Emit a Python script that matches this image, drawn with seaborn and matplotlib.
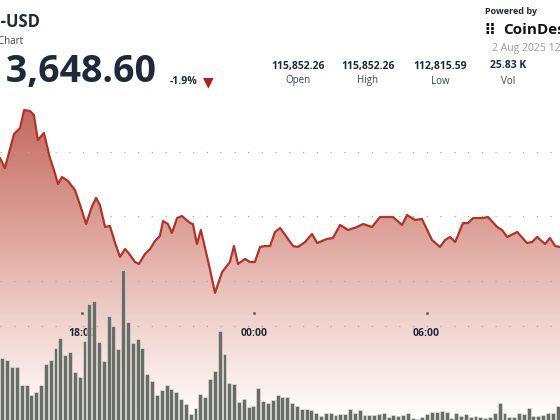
import numpy as np
import pandas as pd
import seaborn as sns
import matplotlib.pyplot as plt
from matplotlib.patches import Polygon
from matplotlib.colors import LinearSegmentedColormap

sns.set_style("white")
plt.rcParams['font.family'] = ['Open Sans', 'DejaVu Sans']

# price line, hours since 1 Aug 00:00 and price in USD
hours = [15.14, 15.31, 15.63, 15.84, 15.98, 16.19, 16.32, 16.46, 16.67, 16.88, 17.02, 17.16, 17.30,
         17.51, 17.75, 17.93, 18.14, 18.35, 18.49, 18.62, 18.80, 18.97, 19.15, 19.32, 19.50, 19.67,
         19.84, 19.98, 20.19, 20.37, 20.54, 20.71, 20.82, 20.99, 21.13, 21.31, 21.48, 21.76, 21.86,
         22.00, 22.14, 22.46, 22.63, 22.88, 23.15, 23.29, 23.43, 23.68, 23.85, 24.02, 24.20, 24.37,
         24.55, 24.72, 24.90, 25.35, 25.52, 25.77, 26.01, 26.19, 26.53, 26.74, 26.99, 27.27, 27.58,
         27.79, 28.10, 28.38, 28.62, 28.83, 29.15, 29.32, 29.60, 29.84, 30.19, 30.47, 30.65, 30.82,
         31.00, 31.27, 31.45, 31.62, 31.97, 32.14, 32.46, 32.63, 32.81, 33.16, 33.50, 33.68, 33.85,
         34.13, 34.30, 34.48, 34.65]
prices = [115055, 114889, 115454, 115553, 115852, 115835, 115769, 115354, 115470, 115055, 114856,
          114624, 114740, 114673, 114524, 114275, 113960, 114258, 114391, 114275, 113910, 113926,
          113644, 113412, 113545, 113445, 113329, 113296, 113462, 113545, 113677, 113760, 114009,
          113960, 113810, 114059, 114092, 113976, 113960, 113628, 113860, 113196, 112815, 113163,
          113329, 113594, 113296, 113379, 113329, 113329, 113578, 113594, 113594, 113827, 113893,
          113594, 113578, 113661, 113794, 113644, 113711, 113727, 113943, 113860, 113910, 113960,
          113910, 114076, 114076, 114076, 113943, 114109, 114026, 114043, 113694, 113578, 113694,
          113744, 113661, 113976, 113976, 114059, 114059, 114076, 113910, 113860, 113744, 113827,
          113644, 113661, 113744, 113628, 113727, 113594, 113578]

# volume bars (5 min buckets), arbitrary units
volume = [62, 60, 53, 53, 35, 35, 25, 28, 35, 56, 60, 72, 82, 65, 68, 48, 43, 79, 116, 119, 78,
          59, 104, 94, 71, 150, 98, 77, 81, 72, 46, 39, 25, 30, 35, 31, 28, 21, 16, 6, 12, 26, 23,
          41, 49, 89, 66, 37, 36, 18, 21, 13, 14, 32, 19, 17, 20, 25, 23,
          23, 17, 14, 11, 11, 10, 7, 4, 7, 7, 5, 6, 6, 11, 7, 10, 5, 5, 5, 6, 7, 3, 5, 4, 5, 7, 2,
          1, 3, 6, 8, 8, 9, 8, 2, 7, 4, 6, 3, 4, 3, 2, 3, 7, 17, 7, 3, 3, 7, 6, 12, 4, 4, 5, 7, 7, 14]
tick_hours = [18, 24, 30]
tick_labels = ['18:00', '00:00', '06:00']
grid_prices = [115155, 114092, 113013]

W, H = 560, 420
fig = plt.figure(figsize=(5.6, 4.2), dpi=100)

def px(y):
    return 1 - y / H

# price axes spans from y=100 to the bottom of the figure
ax = fig.add_axes([0, 0, 1, px(100)])
x0, x1 = 15.14, 34.65
ax.set_xlim(x0, x1)
ax.set_ylim(115852 - 310 * 16.6, 115852 + 10 * 16.6)
ylo, yhi = ax.get_ylim()

# gradient fill under the line
grad = np.linspace(0, 1, 256).reshape(-1, 1)
cmap = LinearSegmentedColormap.from_list('g', ['#ffffff', '#efd0ca', '#d99a91', '#c56b62'])
im = ax.imshow(grad, extent=[x0, x1, ylo, 115852], origin='lower', aspect='auto', cmap=cmap, zorder=1)
poly = Polygon(list(zip(hours, prices)) + [(x1, ylo), (x0, ylo)], closed=True, transform=ax.transData)
im.set_clip_path(poly)

for g in grid_prices + [ylo + (yhi - ylo) * (94 / 320)]:
    ax.axhline(g, color='#aaaaaa', lw=0.9, ls=(0, (1, 10)), zorder=2)

sns.lineplot(x=hours, y=prices, ax=ax, color='#b3332b', lw=1.6, zorder=5)
ax.set_axis_off()

for th, tl in zip(tick_hours, tick_labels):
    ax.text(th, 112266 - 7 * 16.6, tl, ha='center', va='center', fontsize=7.5,
            fontweight='bold', color='#1e2a3a', zorder=6)
    ax.plot(th, 112266 + 13 * 16.6, marker='s', ms=1, color='#666666', zorder=6)

# volume axes at the bottom
vax = fig.add_axes([0, 0, 1, 150 / H])
vdf = pd.DataFrame({'i': np.arange(len(volume)), 'v': volume})
sns.barplot(data=vdf, x='i', y='v', ax=vax, color='#6a6d66', width=0.82, saturation=1,
            edgecolor='#e6e6e6', linewidth=0.4)
vax.set_xlim(-0.5, len(volume) - 0.5)
vax.set_ylim(0, 150)
vax.set_axis_off()
vax.patch.set_alpha(0)

# header texts
fig.text(40 / W, px(22), 'BTC-USD', ha='right', va='center', fontsize=12, fontweight='bold', color='#1e2a3a')
fig.text(23 / W, px(42), 'Price Chart', ha='right', va='center', fontsize=7, color='#3a4350')
fig.text(157 / W, px(72), '113,648.60', ha='right', va='center', fontsize=27, fontweight='bold', color='#1e2a3a')
fig.text(170 / W, px(81), '-1.9%', ha='left', va='center', fontsize=7.5, fontweight='bold', color='#1e2a3a')
fig.text(208 / W, px(82), '▼', ha='center', va='center', fontsize=10, color='#b3201a', family='DejaVu Sans')

for cx, val, lab in zip([298, 368, 440, 508], ['115,852.26', '115,852.26', '112,815.59', '25.83 K'],
                        ['Open', 'High', 'Low', 'Vol']):
    fig.text(cx / W, px(66), val, ha='center', va='center', fontsize=7.5, fontweight='bold', color='#1e2a3a')
    fig.text(cx / W, px(81), lab, ha='center', va='center', fontsize=7, color='#3a4350')

fig.text(485 / W, px(11), 'Powered by', ha='left', va='center', fontsize=6.5, fontweight='bold', color='#1e2a3a')
fig.text(484 / W, px(30), '⁝⁝', ha='left', va='center', fontsize=11, fontweight='bold', color='#111111', family='DejaVu Sans')
fig.text(503 / W, px(30), 'CoinDesk', ha='left', va='center', fontsize=11, fontweight='bold', color='#111111')
fig.text(492 / W, px(48), '2 Aug 2025 12:34', ha='left', va='center', fontsize=7.5, color='#999999')

fig.savefig('out.png', dpi=100)
